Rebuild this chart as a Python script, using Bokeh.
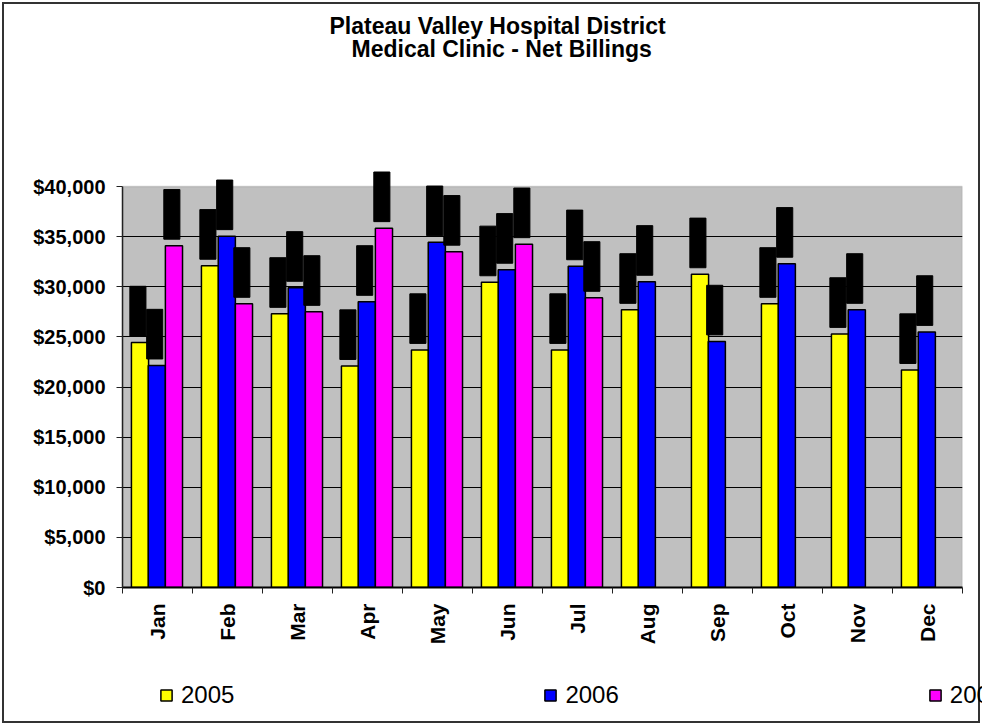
import numpy as np
from bokeh.plotting import figure
from bokeh.layouts import column
from bokeh.models import (ColumnDataSource, Range1d, LinearAxis, FixedTicker,
                          NumeralTickFormatter, BoxAnnotation, Legend, LegendItem,
                          Title, Grid)
from bokeh.transform import dodge
from bokeh.embed import file_html
from bokeh.resources import INLINE

nan = float("nan")

months = ["Jan", "Feb", "Mar", "Apr", "May", "Jun",
          "Jul", "Aug", "Sep", "Oct", "Nov", "Dec"]
billings_2005 = [24450, 32100, 27300, 22100, 23700, 30450,
                 23700, 27700, 31250, 28300, 25300, 21700]
billings_2006 = [22150, 35050, 29900, 28500, 34450, 31700,
                 32050, 30500, 24550, 32300, 27700, 25500]
billings_2007 = [34100, 28300, 27500, 35850, 33500, 34250,
                 28900, nan, nan, nan, nan, nan]
series_labels = ["2005", "2006", "2007"]
y_ticks = [0, 5000, 10000, 15000, 20000, 25000, 30000, 35000, 40000]

# data-label boxes (rendered as black boxes in the original)
LABEL_GAP = 650
LABEL_H = 4950

x = np.arange(1, len(months) + 1)
v05 = np.array(billings_2005, dtype=float)
v06 = np.array(billings_2006, dtype=float)
v07 = np.array(billings_2007, dtype=float)

src = ColumnDataSource(dict(
    x=x, month=months, v05=v05, v06=v06, v07=v07,
    b05=v05 + LABEL_GAP, t05=v05 + LABEL_GAP + LABEL_H,
    b06=v06 + LABEL_GAP, t06=v06 + LABEL_GAP + LABEL_H,
    b07=v07 + LABEL_GAP, t07=v07 + LABEL_GAP + LABEL_H,
))

FONT = "Liberation Sans"
BORDER = "2px solid #333333"

p = figure(width=978, height=648,
           x_range=Range1d(0.5, 12.5), y_range=Range1d(0, 42000),
           x_axis_type=None, y_axis_type=None,
           output_backend="svg", toolbar_location=None,
           min_border_left=118, min_border_right=20,
           min_border_top=162, min_border_bottom=65)
p.frame_align = False
p.styles = {"border-top": BORDER, "border-left": BORDER, "border-right": BORDER}
p.outline_line_color = None
p.background_fill_color = "white"
p.border_fill_color = "white"

# grey plot area up to $40,000
p.add_layout(BoxAnnotation(bottom=0, top=40000, fill_color="#C0C0C0",
                           fill_alpha=1.0, line_color="#808080",
                           line_width=1.5, level="image"))

p.add_layout(Grid(dimension=1, ticker=FixedTicker(ticks=y_ticks[1:-1]),
                  grid_line_color="black", grid_line_width=1))

yaxis = LinearAxis(ticker=FixedTicker(ticks=y_ticks),
                   formatter=NumeralTickFormatter(format="$0,0"),
                   bounds=(0, 40000),
                   major_tick_out=6, major_tick_in=0,
                   minor_tick_line_color=None,
                   major_label_standoff=11,
                   major_label_text_font=FONT,
                   major_label_text_font_style="bold",
                   major_label_text_font_size="20px",
                   major_label_text_color="black",
                   axis_line_color="#222222", axis_line_width=1.5,
                   major_tick_line_color="#222222")
p.add_layout(yaxis, "left")

xaxis = LinearAxis(ticker=FixedTicker(ticks=list(x),
                                      minor_ticks=[i + 0.5 for i in range(13)]),
                   major_label_overrides={int(i): m for i, m in zip(x, months)},
                   major_tick_out=0, major_tick_in=0,
                   major_tick_line_color=None,
                   minor_tick_out=6, minor_tick_in=0,
                   minor_tick_line_color="#222222",
                   major_label_orientation=np.pi / 2,
                   major_label_standoff=10,
                   major_label_text_font=FONT,
                   major_label_text_font_style="bold",
                   major_label_text_font_size="21px",
                   major_label_text_color="black",
                   axis_line_color="black", axis_line_width=2)
p.add_layout(xaxis, "below")

BW = 0.245
offsets = [-0.25, -0.01, 0.235]
colors = ["#FFFF00", "#0000FF", "#FF00FF"]
keys = ["05", "06", "07"]

for off, col, k in zip(offsets, colors, keys):
    p.vbar(x=dodge("x", off), top="v" + k, width=BW, source=src,
           fill_color=col, line_color="black", line_width=1.5)

for off, k in zip(offsets, keys):
    p.vbar(x=dodge("x", off - 0.03), bottom="b" + k, top="t" + k, width=0.23,
           source=src, fill_color="black", line_color="black", line_width=1)

# title lines (stacked outward from the plot frame)
spacer = Title(text=" ", text_font_size="10px", standoff=92)
p.add_layout(spacer, "above")

t2 = Title(text="Medical Clinic - Net Billings", align="left", offset=229,
           standoff=0, text_color="black",
           text_font=FONT, text_font_size="23px", text_font_style="bold")
p.add_layout(t2, "above")

p.title.text = "Plateau Valley Hospital District"
p.title.align = "left"
p.title.offset = 207
p.title.standoff = -10
p.title.text_font = FONT
p.title.text_font_size = "23px"
p.title.text_font_style = "bold"
p.title.text_color = "black"

# legend strip below the chart (its own frame spans the whole strip)
q = figure(width=978, height=73, x_range=Range1d(-2, -1), y_range=Range1d(0, 1),
           x_axis_type=None, y_axis_type=None,
           output_backend="svg", toolbar_location=None,
           min_border=0)
q.frame_align = False
q.styles = {"border-bottom": BORDER, "border-left": BORDER, "border-right": BORDER}
q.outline_line_color = None
legend_renderers = [q.vbar(x="x", top="v" + k, width=0.1, source=src,
                           fill_color=col, line_color="black", line_width=1.5)
                    for col, k in zip(colors, keys)]
legend = Legend(items=[LegendItem(label=lab, renderers=[r])
                       for lab, r in zip(series_labels, legend_renderers)],
                orientation="horizontal", location=(155, 14),
                label_text_font=FONT, label_text_font_size="24px",
                label_text_color="black",
                label_standoff=8, glyph_width=14, glyph_height=14,
                label_height=24,
                spacing=309, padding=0, margin=0,
                border_line_color=None, background_fill_alpha=0)
q.add_layout(legend)

layout = column(p, q, spacing=0)
layout.margin = (2, 0, 0, 2)

open("out.html", "w").write(file_html(layout, INLINE))
